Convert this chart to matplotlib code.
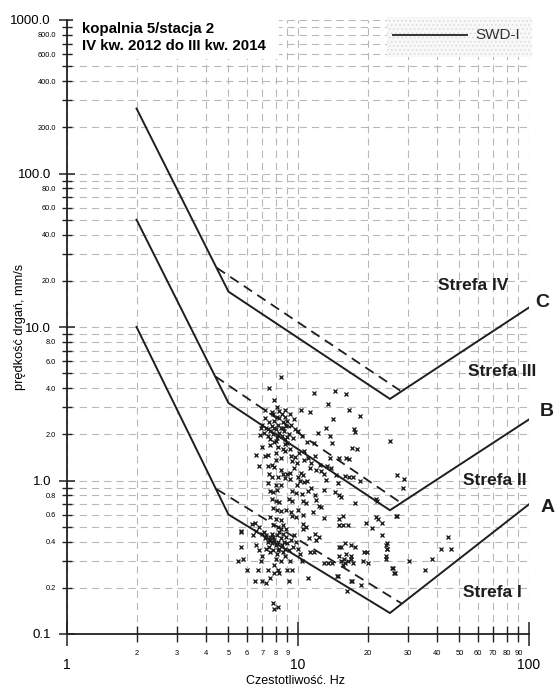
import matplotlib
matplotlib.use("Agg")
import matplotlib.pyplot as plt
from matplotlib.patches import Rectangle

plt.rcParams['font.family'] = ['Liberation Sans', 'DejaVu Sans']
plt.rcParams['hatch.linewidth'] = 0.6

# ---------------- data ----------------
title_lines = ["kopalnia 5/stacja 2", "IV kw. 2012 do III kw. 2014"]
x_label = "Czestotliwość. Hz"
y_label = "prędkość drgań, mm/s"
legend_label = "SWD-I"

# boundary lines (solid)
bound_f = [2, 5, 25, 100]
bound_A = [10, 0.6, 0.137, 0.7]
bound_B = [50, 3.2, 0.64, 2.5]
bound_C = [265, 17, 3.4, 13.4]
# dashed lines
dash_A_f = [4.45, 28.1]
dash_A_v = [0.877, 0.158]
dash_B_f = [4.4, 28.1]
dash_B_v = [4.75, 0.71]
dash_C_f = [4.45, 27.7]
dash_C_v = [24.3, 3.85]

zone_labels = ["Strefa IV", "Strefa III", "Strefa II", "Strefa I"]
line_labels = ["C", "B", "A"]

# measured events (frequency Hz, velocity mm/s)
pts = [
    # upper sparse
    (8.4, 4.7), (7.5, 4.0), (7.9, 3.35), (8.1, 3.0), (8.8, 2.88), (10.3, 2.9), (7.2, 2.88),
    (11.7, 3.7), (14.4, 3.85), (16.1, 3.65), (13.5, 3.15), (11.3, 2.8), (16.6, 2.88),
    (18.5, 2.65), (14.2, 2.5), (13.2, 2.2), (17.4, 2.15), (17.6, 2.08), (12.2, 2.05),
    (13.8, 1.95), (25.0, 1.82), (10.9, 1.78), (11.7, 1.76), (14.0, 1.75), (17.2, 1.62),
    (18.0, 1.6), (13.8, 1.4), (15.0, 1.41), (16.2, 1.4), (16.7, 1.38),
    (11.3, 1.2), (12.0, 1.17), (12.6, 1.15), (13.9, 1.2), (13.3, 1.25), (14.6, 1.08),
    (16.0, 1.07), (16.6, 1.05), (11.4, 1.3), (12.5, 1.27), (12.9, 1.1), (10.6, 1.55),
    (11.8, 1.45),
    # dense upper cluster
    (6.84, 1.98), (7.2, 2.54), (7.0, 2.3), (7.3, 2.2), (7.5, 2.4), (7.6, 2.1), (7.7, 2.25),
    (7.8, 2.0), (7.9, 2.45), (8.0, 2.15), (8.1, 1.9), (8.2, 2.3), (8.3, 2.05), (8.4, 2.2),
    (8.5, 1.95), (8.6, 2.4), (8.7, 2.1), (8.8, 1.85), (8.9, 2.25), (9.1, 2.0), (9.3, 2.3),
    (9.5, 1.9), (9.7, 2.15), (7.4, 1.95), (7.6, 1.85), (8.0, 1.8), (8.3, 2.55), (8.8, 2.6),
    (9.0, 2.45), (7.1, 2.05), (6.9, 2.2), (8.1, 2.6), (9.6, 2.5), (10.0, 2.1), (10.4, 1.95),
    (7.8, 2.7), (8.5, 2.7), (7.7, 2.8), (8.3, 2.85), (9.2, 2.7), (7.4, 2.15), (8.6, 2.2),
    (9.0, 1.92), (7.9, 2.2), (8.2, 1.98),
    # column 1.0-1.8
    (7.9, 1.79), (8.8, 1.73), (6.6, 1.47), (7.2, 1.44), (7.4, 1.46), (8.0, 1.52), (8.6, 1.6),
    (8.8, 1.55), (9.7, 1.43), (9.9, 1.3), (9.4, 1.33), (6.8, 1.25), (7.4, 1.25), (7.7, 1.26),
    (7.9, 1.22), (8.4, 1.17), (7.5, 1.11), (8.6, 1.11), (9.0, 1.1), (9.2, 1.12), (10.3, 1.12),
    (10.5, 1.09), (7.7, 1.06), (8.8, 1.04), (9.2, 1.02), (7.4, 0.97), (10.2, 0.99),
    (10.6, 0.98), (10.9, 1.0), (7.0, 1.65), (7.6, 1.7), (8.2, 1.65), (9.2, 1.6), (9.0, 1.75),
    (8.4, 1.4), (8.0, 1.35), (9.3, 1.45), (10.1, 1.5), (10.6, 1.35), (11.0, 1.4), (8.2, 1.05),
    (9.6, 1.2), (10.0, 1.05),
    # column 0.5-1.0
    (8.0, 0.94), (8.4, 0.94), (7.6, 0.86), (7.8, 0.84), (8.1, 0.87), (9.9, 0.94), (9.4, 0.86),
    (9.8, 0.83), (10.4, 0.82), (7.7, 0.76), (8.0, 0.74), (8.3, 0.72), (9.1, 0.76), (9.4, 0.73),
    (10.5, 0.73), (10.8, 0.71), (7.8, 0.66), (8.1, 0.64), (8.4, 0.63), (8.9, 0.64), (9.3, 0.62),
    (10.0, 0.64), (7.6, 0.58), (8.0, 0.56), (8.4, 0.55), (9.4, 0.59), (9.8, 0.58), (10.5, 0.6),
    (10.5, 0.52), (10.8, 0.5), (7.8, 0.51), (8.2, 0.5), (8.6, 0.51), (6.3, 0.52), (6.5, 0.53),
    (6.8, 0.5), (6.6, 0.47), (7.1, 0.46), (8.4, 0.48), (8.9, 0.48), (5.67, 0.47),
    (11.4, 0.9), (11.9, 0.8), (12.3, 0.68), (11.6, 0.62), (12.0, 0.75), (11.0, 0.85),
    # lower cluster around 8 Hz / 0.4 mm/s
    (5.67, 0.46), (6.4, 0.44), (7.0, 0.45), (7.3, 0.44), (5.67, 0.37), (5.5, 0.30), (5.8, 0.31),
    (6.6, 0.38), (6.8, 0.35), (7.0, 0.32), (6.9, 0.30), (7.2, 0.42), (7.4, 0.40), (7.5, 0.37),
    (7.6, 0.43), (7.7, 0.39), (7.8, 0.35), (7.9, 0.41), (8.0, 0.38), (8.1, 0.44), (8.1, 0.33),
    (8.2, 0.40), (8.3, 0.36), (8.4, 0.42), (8.5, 0.38), (8.6, 0.34), (8.7, 0.40), (8.8, 0.36),
    (8.9, 0.43), (9.0, 0.39), (9.1, 0.35), (9.3, 0.41), (9.5, 0.37), (7.6, 0.34), (7.3, 0.36),
    (8.0, 0.31), (8.4, 0.30), (8.8, 0.32), (9.2, 0.30), (7.7, 0.45), (8.3, 0.46), (9.6, 0.44),
    (9.8, 0.40), (10.0, 0.36), (7.9, 0.28), (7.5, 0.41), (8.6, 0.45), (8.2, 0.35), (7.8, 0.43),
    (6.0, 0.26), (6.7, 0.26), (7.4, 0.26), (7.9, 0.25), (8.2, 0.26), (9.0, 0.26), (9.4, 0.26),
    (6.5, 0.22), (7.0, 0.22), (7.3, 0.215), (7.6, 0.23), (8.3, 0.25), (9.1, 0.22),
    (7.8, 0.16), (8.2, 0.15), (7.9, 0.145),
    # 10-14 Hz low
    (11.2, 0.42), (11.8, 0.45), (12.0, 0.41), (12.3, 0.43), (10.4, 0.30), (11.3, 0.34),
    (11.7, 0.34), (11.0, 0.23), (10.5, 0.48), (10.2, 0.33), (13.0, 0.29), (13.5, 0.29),
    (14.0, 0.29), (14.8, 0.24),
    # 13-28 Hz
    (13.2, 1.01), (14.9, 0.96), (17.3, 1.06), (18.5, 1.0), (14.5, 0.84), (13.0, 0.87),
    (15.1, 0.80), (15.3, 0.78), (12.6, 0.67), (17.7, 0.71), (21.7, 0.76), (21.9, 0.74),
    (12.9, 0.57), (15.6, 0.59), (15.1, 0.56), (15.0, 0.51), (15.7, 0.51), (16.5, 0.51),
    (19.7, 0.53), (21.0, 0.49), (21.7, 0.58), (22.3, 0.56), (23.0, 0.53), (26.8, 0.59),
    (23.0, 0.44), (16.0, 0.39), (16.9, 0.38), (17.6, 0.37), (15.0, 0.37), (15.3, 0.37),
    (24.0, 0.38), (24.2, 0.36), (19.3, 0.34), (19.8, 0.34), (24.0, 0.31), (19.2, 0.30),
    (20.0, 0.29), (25.6, 0.27), (26.0, 0.25), (15.0, 0.32), (15.4, 0.30), (15.8, 0.31),
    (16.2, 0.33), (16.5, 0.30), (16.9, 0.31), (17.3, 0.29), (15.6, 0.28), (16.0, 0.29),
    (17.0, 0.32), (17.0, 0.22), (16.3, 0.19), (17.2, 0.22), (18.8, 0.21), (14.9, 0.24),
    # right
    (26.8, 1.09), (28.7, 1.03), (28.6, 0.89), (26.6, 0.59), (44.5, 0.43), (41.7, 0.36),
    (46.0, 0.36), (38.0, 0.31), (30.2, 0.30), (35.5, 0.26), (25.8, 0.27), (26.3, 0.25),
    (24.2, 0.39), (24.4, 0.36), (24.0, 0.32),
]
freq = [p[0] for p in pts]
vel = [p[1] for p in pts]

# ticks
y_major = [0.1, 1, 10, 100, 1000]
y_major_labels = ["0.1", "1.0", "10.0", "100.0", "1000.0"]
y_minor = [m * d for d in [0.1, 1, 10, 100] for m in range(2, 10)]
y_minor_labels = [("%.1f" % (m * d)) if m % 2 == 0 else "" for d in [0.1, 1, 10, 100] for m in range(2, 10)]
x_major = [1, 10, 100]
x_major_labels = ["1", "10", "100"]
x_minor = [m * d for d in [1, 10] for m in range(2, 10)]
x_minor_labels = [str(m * d) for d in [1, 10] for m in range(2, 10)]

# ---------------- figure ----------------
fig = plt.figure(figsize=(5.55, 6.85), dpi=100)
ax = fig.add_axes([67/555, 51/685, 462/555, 614/685])
ax.set_xscale('log')
ax.set_yscale('log')
ax.set_xlim(1, 100)
ax.set_ylim(0.1, 1000)

for s in ['top', 'right']:
    ax.spines[s].set_visible(False)
for s in ['left', 'bottom']:
    ax.spines[s].set_linewidth(1.3)
    ax.spines[s].set_color('#222222')

ax.set_axisbelow(True)
ax.set_yticks(y_major, y_major_labels)
ax.set_yticks(y_minor, y_minor_labels, minor=True)
ax.set_xticks(x_major, x_major_labels)
ax.set_xticks(x_minor, x_minor_labels, minor=True)

ax.tick_params(axis='y', which='major', direction='inout', length=11, width=1.1,
               labelsize=9.5, pad=6, color='#222222')
ax.tick_params(axis='y', which='minor', direction='inout', length=7, width=1.0,
               labelsize=5.3, pad=4.5, color='#222222')
ax.tick_params(axis='x', which='major', direction='inout', length=17, width=1.1,
               labelsize=10, pad=8.5, color='#222222')
ax.tick_params(axis='x', which='minor', direction='inout', length=11, width=1.0,
               labelsize=5.4, pad=6, color='#222222')

ax.grid(True, which='both', color='#b8b8b8', linewidth=0.8, linestyle=(0, (6.5, 4.5)))

# boundary lines
lc = '#1e1e1e'
for v in (bound_A, bound_B, bound_C):
    ax.plot(bound_f, v, color=lc, lw=1.4, zorder=3, solid_joinstyle='miter')
for f, v in ((dash_A_f, dash_A_v), (dash_B_f, dash_B_v), (dash_C_f, dash_C_v)):
    ax.plot(f, v, color=lc, lw=1.3, ls=(0, (5.5, 3.5)), zorder=3)

# events
ax.plot(freq, vel, ls='none', marker='x', ms=3.2, mew=0.95, color='#1a1a1a', zorder=4)

# title box
ax.add_patch(Rectangle((0.014, 0.9365), 0.445, 0.09, transform=ax.transAxes,
                       facecolor='white', edgecolor='none', zorder=1, clip_on=False))
ax.text(0.0325, 0.9853, title_lines[0], transform=ax.transAxes, fontsize=10.8,
        fontweight='bold', va='center', ha='left', zorder=6)
ax.text(0.0325, 0.9577, title_lines[1], transform=ax.transAxes, fontsize=10.8,
        fontweight='bold', va='center', ha='left', zorder=6)

# legend box
ax.add_patch(Rectangle((0.6926, 0.9397), 0.3139, 0.0652, transform=ax.transAxes,
                       facecolor='#f8f8f8', edgecolor='#dadada', hatch='....', lw=0,
                       zorder=5, clip_on=False))
ax.plot([0.7056, 0.8658], [0.9756, 0.9756], transform=ax.transAxes, color='#333333',
        lw=1.4, zorder=6, clip_on=False)
ax.text(0.8831, 0.9756, legend_label, transform=ax.transAxes, fontsize=11,
        color='#333333', va='center', ha='left', zorder=6)

# zone labels
zone_pos = [(0.803, 0.5668), (0.868, 0.4283), (0.857, 0.2492), (0.857, 0.0684)]
for lab, (x, y) in zip(zone_labels, zone_pos):
    ax.text(x, y, lab, transform=ax.transAxes, fontsize=12.5, fontweight='bold',
            va='center', ha='left', color='#1e1e1e', zorder=6)
line_pos = [(1.013, 0.5407), (1.024, 0.3616), (1.024, 0.2068)]
for lab, (x, y) in zip(line_labels, line_pos):
    ax.text(x, y, lab, transform=ax.transAxes, fontsize=14, fontweight='bold',
            va='center', ha='left', color='#1e1e1e', zorder=6, clip_on=False)

fig.text(295/555, 1 - 680.5/685, x_label, fontsize=9.0, ha='center', va='center')
fig.text(20/555, 1 - 327/685, y_label, fontsize=9.2, ha='center', va='center', rotation=90)

fig.savefig('out.png', dpi=100)
